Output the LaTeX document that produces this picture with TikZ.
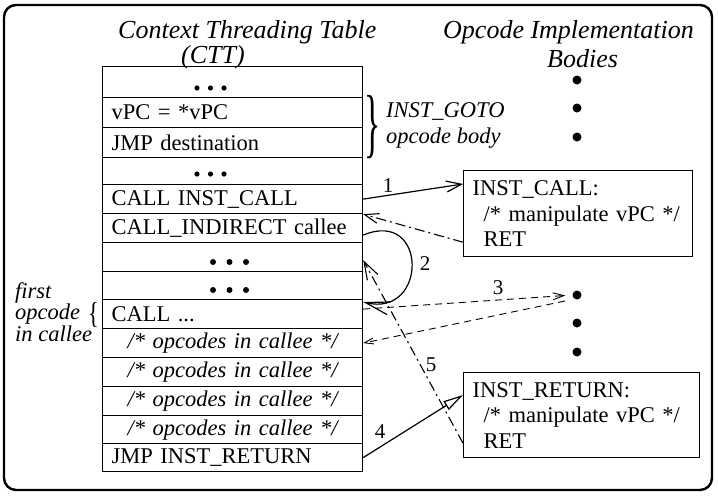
\documentclass[tikz,border=0pt]{standalone}
\usepackage{fontspec}
\setmainfont{Liberation Serif}
\usetikzlibrary{arrows.meta,calc}
\begin{document}
\begin{tikzpicture}[x=1pt,y=-1pt,
  rowbox/.style={draw, line width=1.2pt, minimum width=260pt, inner xsep=9pt, inner ysep=0pt,
    text width=242pt, anchor=north west, font=\fontsize{22.5}{25}\selectfont},
  lrow/.style={rowbox, align=left},
  crow/.style={rowbox, align=center, font=\fontsize{22.5}{25}\selectfont\itshape},
  implbox/.style={draw, line width=1.2pt, anchor=north west, align=left, inner xsep=9pt, inner ysep=0pt,
    font=\fontsize{22.5}{25.5}\selectfont},
  ttl/.style={anchor=base west, inner sep=0pt, font=\fontsize{26}{30}\selectfont\itshape},
  itl/.style={anchor=base west, inner sep=0pt, font=\fontsize{22.5}{25}\selectfont\itshape},
  num/.style={inner sep=0pt, font=\fontsize{21}{24}\selectfont},
  bigdot/.style={circle, fill, inner sep=0pt, minimum size=9pt},
  conn/.style={line width=1.2pt},
  dashdot/.style={line width=1.1pt, dash pattern=on 10pt off 4pt on 2pt off 4pt},
  dashline/.style={line width=0.9pt, dash pattern=on 7pt off 5pt},
  vtip/.tip={Straight Barb[length=15pt,width=11pt,line width=1.2pt]},
]
\useasboundingbox (0,0) rectangle (718,496);
\draw[line width=2.4pt, rounded corners=12pt] (4,5) rectangle (712,490);

% titles
\node[ttl] (t1) at (118,38) {Context Threading Table};
\node[ttl] (t2) at (181,63) {(CTT)};
\node[ttl] (t3) at (443,38) {Opcode Implementation};
\node[ttl] (t4) at (547,67) {Bodies};

% table rows
\node[lrow, minimum height=31pt] (r1) at (102,66) {};
\node[lrow, minimum height=30pt] (r2) at (102,97) {vPC = *vPC};
\node[lrow, minimum height=30pt] (r3) at (102,127) {JMP destination};
\node[lrow, minimum height=27pt] (r4) at (102,157) {};
\node[lrow, minimum height=29pt] (r5) at (102,184) {CALL INST\_CALL};
\node[lrow, minimum height=29pt] (r6) at (102,213) {CALL\_INDIRECT callee};
\node[lrow, minimum height=29pt] (r7) at (102,242) {};
\node[lrow, minimum height=28pt] (r8) at (102,271) {};
\node[lrow, minimum height=29pt] (r9) at (102,299) {CALL ...};
\node[crow, minimum height=29pt] (r10) at (102,328) {/* opcodes in callee */};
\node[crow, minimum height=29pt] (r11) at (102,357) {/* opcodes in callee */};
\node[crow, minimum height=29pt] (r12) at (102,386) {/* opcodes in callee */};
\node[crow, minimum height=28pt] (r13) at (102,415) {/* opcodes in callee */};
\node[lrow, minimum height=28pt] (r14) at (102,443) {JMP INST\_RETURN};

% ellipsis dots in rows
\foreach \xx in {197,210.5,224} {
  \fill (\xx,88) circle (2.6pt);
  \fill (\xx,174) circle (2.6pt);
}
\foreach \xx in {213,229.5,246} {
  \fill (\xx,262) circle (3pt);
  \fill (\xx,290) circle (3pt);
}

% right column dots
\node[bigdot] (d1) at (577,80) {};
\node[bigdot] (d2) at (577,108) {};
\node[bigdot] (d3) at (577,137) {};
\node[bigdot] (e1) at (577,295) {};
\node[bigdot] (e2) at (577,323) {};
\node[bigdot] (e3) at (577,352) {};

% braces and side labels
\node[anchor=west, inner sep=0pt, font=\fontsize{22.5}{25}\selectfont] (gb) at (364,127)
  {\scalebox{1.5}[3.4]{\}}};
\node[itl] (g1) at (386,117) {INST\_GOTO};
\node[itl] (g2) at (386,143) {opcode body};
\node[anchor=east, inner sep=0pt, font=\fontsize{22.5}{25}\selectfont] (lb) at (99,315)
  {\scalebox{1}[1.35]{\{}};
\node[itl] (f1) at (15,298) {first};
\node[itl] (f2) at (15,319) {opcode};
\node[itl] (f3) at (15,341) {in callee};

% implementation boxes
\node[implbox, text width=211pt, minimum height=86pt] (call) at (463,170)
  {INST\_CALL:\\\hspace*{11pt}/* manipulate vPC */\\\hspace*{11pt}RET};
\node[implbox, text width=218pt, minimum height=85pt] (ret) at (463,372)
  {INST\_RETURN:\\\hspace*{11pt}/* manipulate vPC */\\\hspace*{11pt}RET};

% connectors
\draw[conn, -{vtip}] (r5.east) -- ($(call.north west)+(0,14)$);
\draw[dashdot, -{Straight Barb[length=14pt,width=10pt,line width=1.1pt]}]
  ($(call.south west)+(0,-15)$) -- (r5.south east);
\draw[conn, -{Straight Barb[length=24pt,width=13pt,line width=1.2pt]}]
  ($(r6.east)+(0,7)$) .. controls (428,208) and (428,318) .. ($(r9.north east)+(0,3)$);
\draw[dashline, -{Straight Barb[length=11pt,width=7pt,line width=0.9pt]}, shorten >=7pt]
  ($(r9.east)+(0,-5)$) -- (e1.west);
\coordinate (e1b) at (565,301);
\draw[dashline, -{Straight Barb[length=9pt,width=6pt,line width=0.9pt]}] (e1b) -- (r10.east);
\draw[conn, -{Triangle[open,length=20pt,width=10pt,line width=1.2pt]}]
  (r14.east) -- ($(ret.north west)+(0,23)$);
\draw[dashdot, -{Straight Barb[length=18pt,width=12pt,line width=1.1pt]}]
  ($(ret.south west)+(0,-15)$) -- ($(r7.east)+(0,3)$);

% numbers
\node[num] (n1) at (388,186) {1};
\node[num] (n2) at (425,264) {2};
\node[num] (n3) at (498,288) {3};
\node[num] (n4) at (380,432) {4};
\node[num] (n5) at (431,365) {5};
\end{tikzpicture}
\end{document}
